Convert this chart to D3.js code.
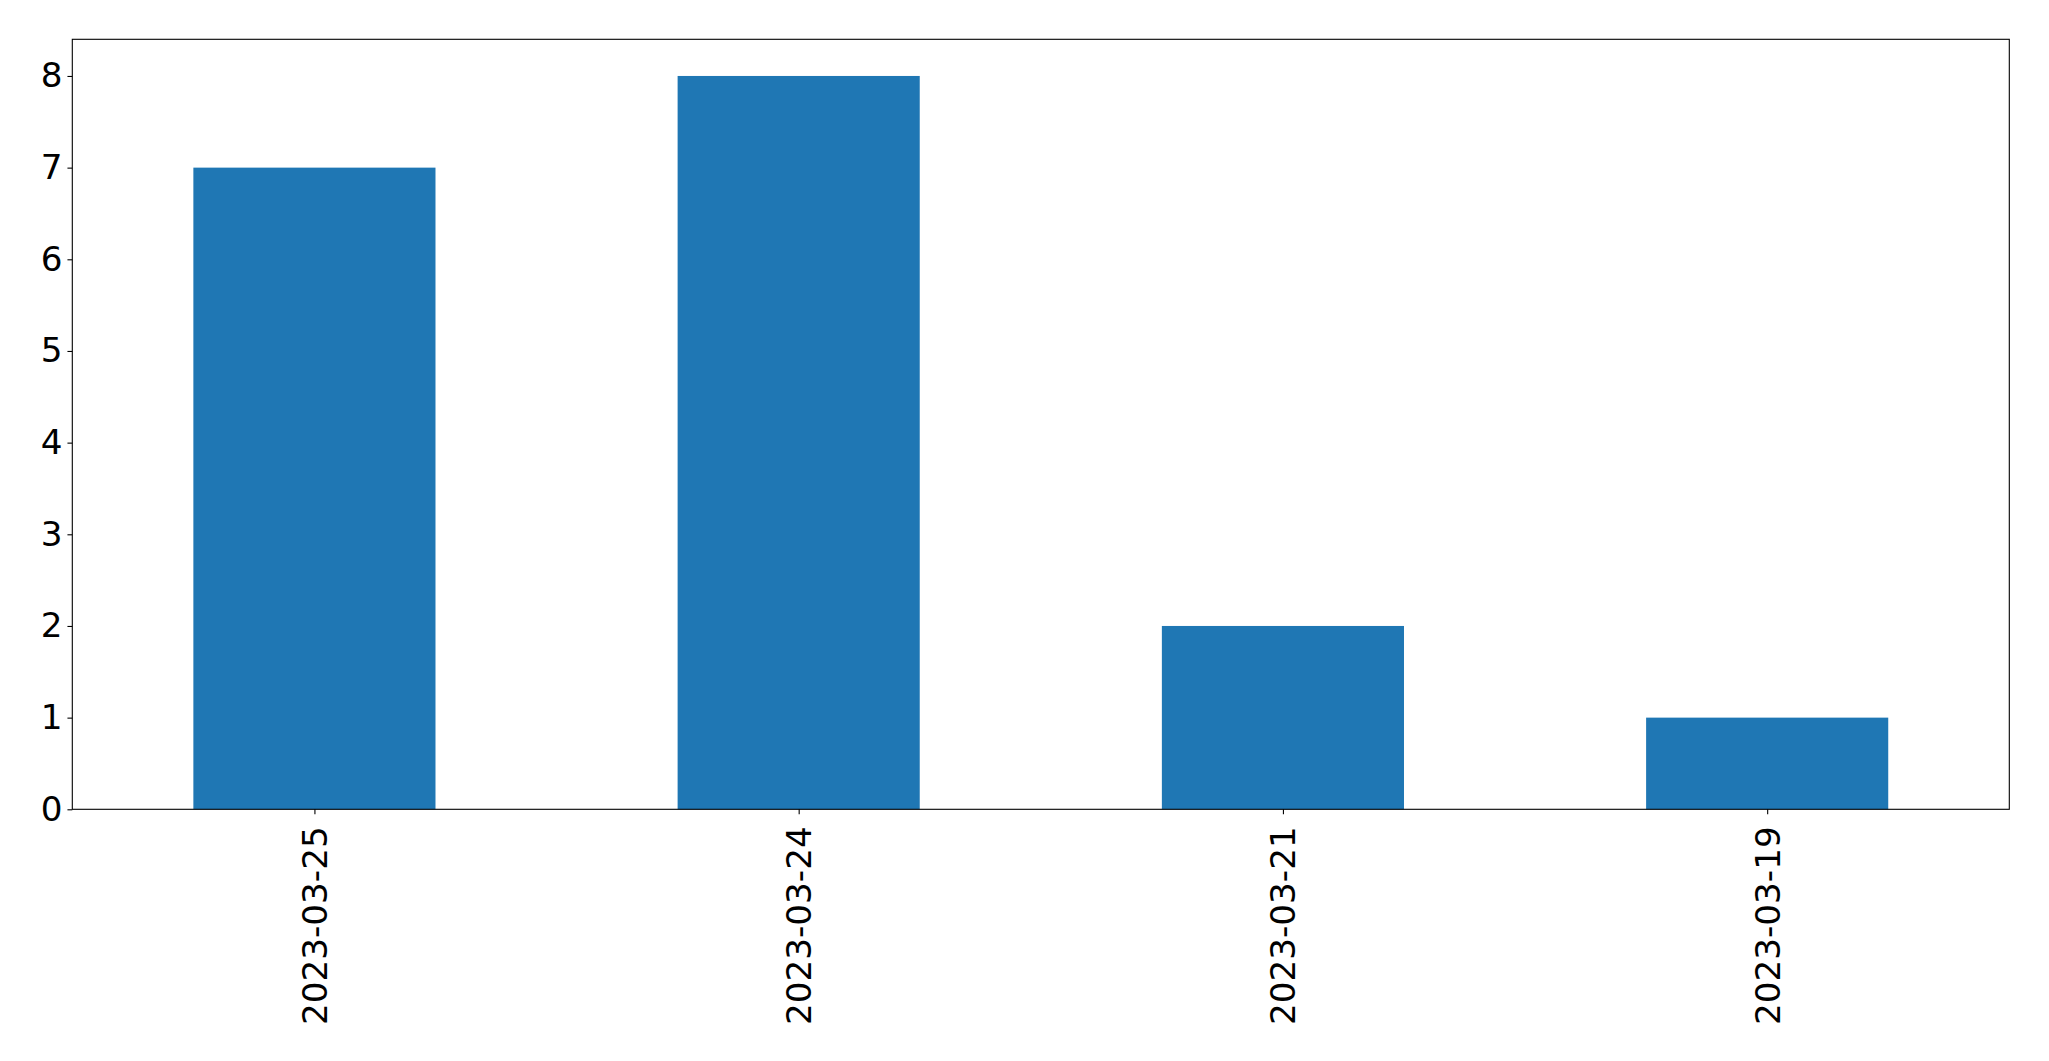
<!DOCTYPE html>
<html><head><meta charset="utf-8">
<script src="https://cdn.jsdelivr.net/npm/d3@7"></script>
<style>body{margin:0;background:#fff;} svg{display:block;}</style>
</head><body>
<script>
const categories = ["2023-03-25", "2023-03-24", "2023-03-21", "2023-03-19"];
const values = [7, 8, 2, 1];
const yTicks = [0, 1, 2, 3, 4, 5, 6, 7, 8];

const W = 2049, H = 1061;
const mLeft = 72.3, mRight = 2009.3, mTop = 39.3, mBottom = 809.3;
const svg = d3.select("body").append("svg").attr("width", W).attr("height", H);

const x = d3.scaleLinear().domain([-0.5, categories.length - 0.5]).range([mLeft, mRight]);
const y = d3.scaleLinear().domain([0, 8.4]).range([mBottom, mTop]);
const font = "'DejaVu Sans', sans-serif";
const fs = "34.2px";

svg.append("g").selectAll("rect").data(values).join("rect")
  .attr("x", (d, i) => x(i - 0.25))
  .attr("width", (d, i) => x(i + 0.25) - x(i - 0.25))
  .attr("y", d => y(d))
  .attr("height", d => y(0) - y(d))
  .attr("fill", "#1f77b4");

const yAxis = d3.axisLeft(y).tickValues(yTicks).tickFormat(d3.format("d")).tickSize(4.86).tickPadding(4.86);
const gy = svg.append("g").attr("transform", `translate(${mLeft},0)`).call(yAxis);
gy.select(".domain").remove();
gy.selectAll("line").attr("stroke", "#000").attr("stroke-width", 1.1);
gy.selectAll("text").attr("font-family", font).attr("font-size", fs).attr("fill", "#000");

const xAxis = d3.axisBottom(x).tickValues(categories.map((c, i) => i)).tickFormat(i => categories[i]).tickSize(4.86).tickPadding(0);
const gx = svg.append("g").attr("transform", `translate(0,${mBottom})`).call(xAxis);
gx.select(".domain").remove();
gx.selectAll("line").attr("stroke", "#000").attr("stroke-width", 1.1);
gx.selectAll("text")
  .attr("font-family", font).attr("font-size", fs).attr("fill", "#000")
  .attr("text-anchor", "end").attr("dy", "0.35em")
  .attr("transform", "translate(0,17) rotate(-90)")
  .attr("x", 0).attr("y", 0);

svg.append("rect").attr("x", mLeft).attr("y", mTop).attr("width", mRight - mLeft).attr("height", mBottom - mTop)
  .attr("fill", "none").attr("stroke", "#000").attr("stroke-width", 1.1);
</script>
</body></html>
